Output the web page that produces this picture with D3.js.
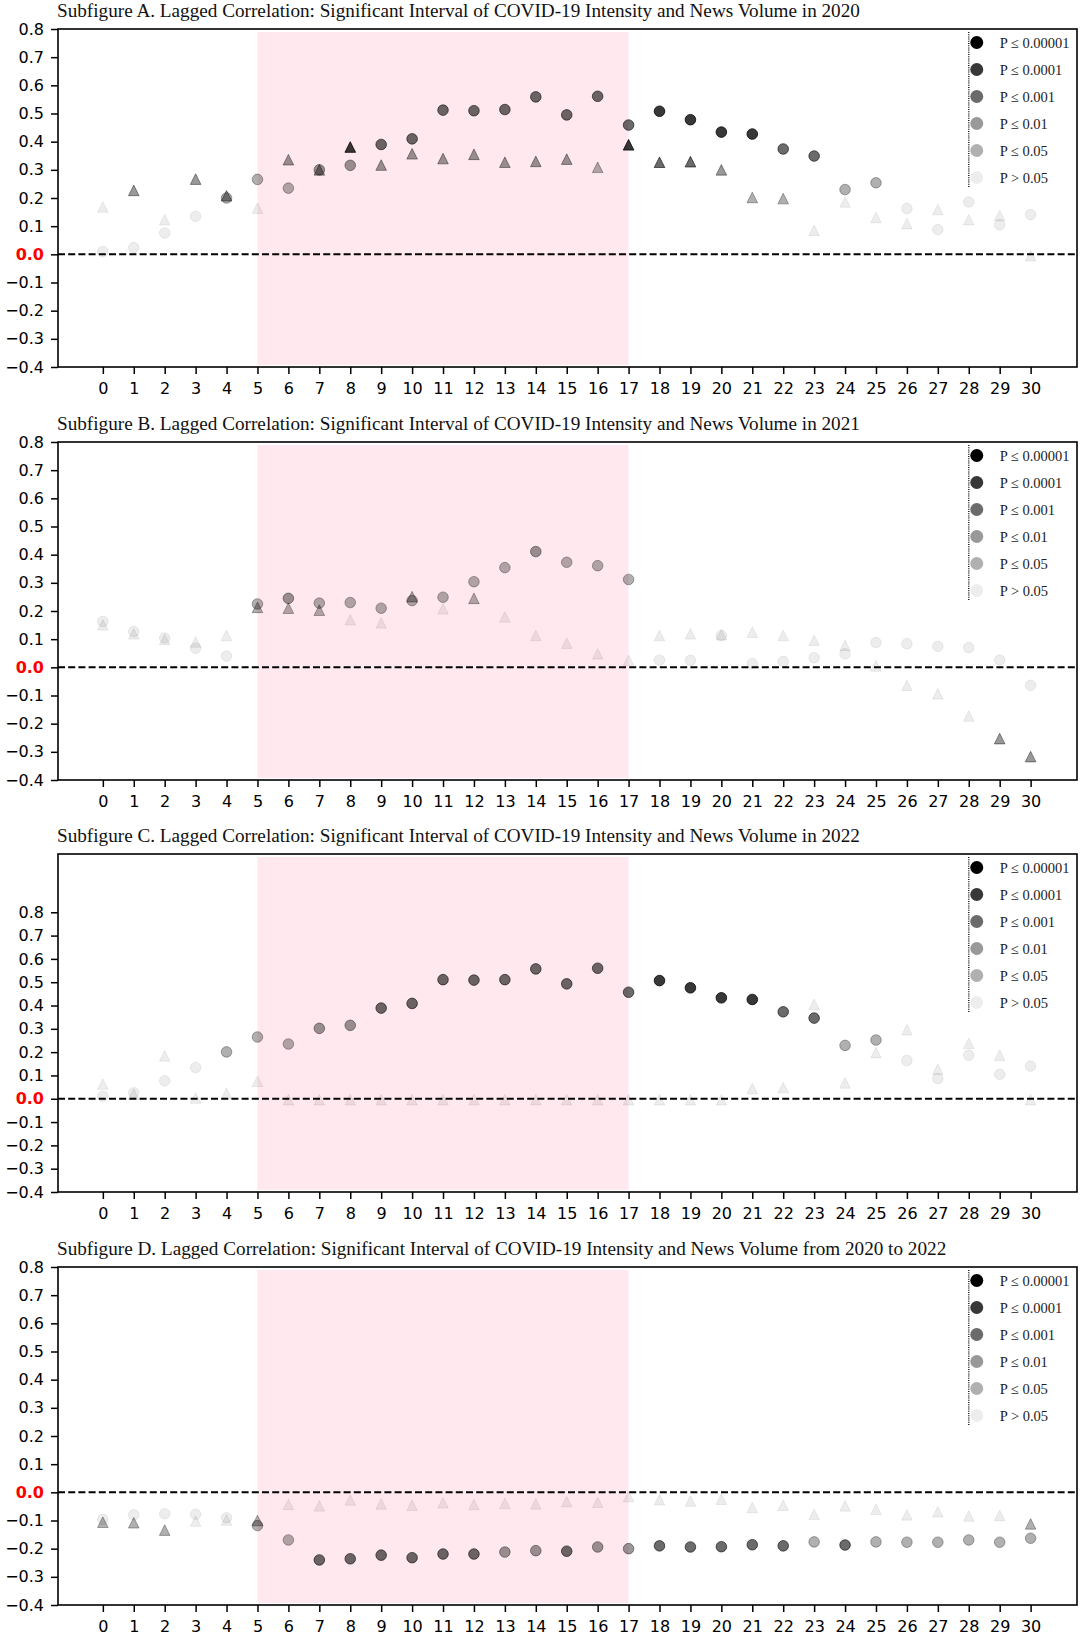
<!DOCTYPE html>
<html>
<head>
<meta charset="utf-8">
<script src="https://cdn.jsdelivr.net/npm/d3@7"></script>
<style>
  body { margin: 0; background: #fff; }
</style>
</head>
<body>
<svg id="chart"></svg>
<script>
// lags (days) on the x axis
const lags = [0, 1, 2, 3, 4, 5, 6, 7, 8, 9, 10, 11, 12, 13, 14, 15, 16, 17, 18, 19, 20, 21, 22, 23, 24, 25, 26, 27, 28, 29, 30]
const yTicks = [-0.4, -0.3, -0.2, -0.1, 0.0, 0.1, 0.2, 0.3, 0.4, 0.5, 0.6, 0.7, 0.8]
const pLabels = ["P \u2264 0.00001", "P \u2264 0.0001", "P \u2264 0.001", "P \u2264 0.01", "P \u2264 0.05", "P > 0.05"]
const pAlpha = [1, 0.78, 0.58, 0.4, 0.31, 0.07]
const interval = [5, 17]

const titles = [
    "Subfigure A. Lagged Correlation: Significant Interval of COVID-19 Intensity and News Volume in 2020",
    "Subfigure B. Lagged Correlation: Significant Interval of COVID-19 Intensity and News Volume in 2021",
    "Subfigure C. Lagged Correlation: Significant Interval of COVID-19 Intensity and News Volume in 2022",
    "Subfigure D. Lagged Correlation: Significant Interval of COVID-19 Intensity and News Volume from 2020 to 2022"
]
const yMax = [0.8, 0.8, 1.05, 0.8]

// circles / triangles: correlation values, and p level index (0 = P<=0.00001 ... 5 = P>0.05)
const aCircle = [0.010, 0.024, 0.076, 0.135, 0.200, 0.266, 0.235, 0.300, 0.316, 0.390, 0.410, 0.512, 0.510, 0.514, 0.559, 0.495, 0.561, 0.459, 0.508, 0.478, 0.434, 0.427, 0.374, 0.349, 0.230, 0.254, 0.163, 0.088, 0.186, 0.105, 0.141]
const aCircleP = [5, 5, 5, 5, 4, 4, 4, 3, 3, 2, 2, 2, 2, 2, 2, 2, 2, 2, 1, 1, 1, 1, 2, 2, 4, 4, 5, 5, 5, 5, 5]
const aTri = [0.168, 0.227, 0.123, 0.267, 0.208, 0.164, 0.336, 0.300, 0.381, 0.317, 0.357, 0.340, 0.355, 0.327, 0.330, 0.338, 0.309, 0.389, 0.327, 0.329, 0.300, 0.202, 0.198, 0.085, 0.186, 0.131, 0.109, 0.159, 0.123, 0.138, -0.005]
const aTriP = [5, 3, 5, 3, 3, 5, 3, 3, 1, 3, 3, 3, 3, 3, 3, 3, 4, 1, 2, 2, 3, 4, 4, 5, 5, 5, 5, 5, 5, 5, 5]

const bCircle = [0.163, 0.127, 0.104, 0.068, 0.040, 0.225, 0.245, 0.228, 0.230, 0.210, 0.237, 0.249, 0.304, 0.354, 0.411, 0.373, 0.361, 0.312, 0.026, 0.025, 0.113, 0.013, 0.021, 0.034, 0.048, 0.088, 0.084, 0.075, 0.070, 0.026, -0.064]
const bCircleP = [5, 5, 5, 5, 5, 4, 3, 4, 4, 4, 4, 4, 4, 4, 3, 4, 4, 4, 5, 5, 5, 5, 5, 5, 5, 5, 5, 5, 5, 5, 5]
const bTri = [0.151, 0.119, 0.099, 0.090, 0.113, 0.213, 0.210, 0.203, 0.169, 0.158, 0.251, 0.208, 0.245, 0.179, 0.113, 0.086, 0.048, 0.025, 0.113, 0.119, 0.116, 0.125, 0.113, 0.096, 0.078, 0.005, -0.064, -0.094, -0.173, -0.253, -0.317]
const bTriP = [5, 5, 5, 5, 5, 4, 4, 4, 5, 5, 4, 5, 4, 5, 5, 5, 5, 5, 5, 5, 5, 5, 5, 5, 5, 5, 5, 5, 5, 3, 3]

const cCircle = [0.011, 0.026, 0.077, 0.134, 0.201, 0.265, 0.235, 0.302, 0.315, 0.389, 0.409, 0.511, 0.509, 0.511, 0.557, 0.493, 0.560, 0.457, 0.507, 0.476, 0.433, 0.426, 0.373, 0.346, 0.229, 0.252, 0.164, 0.087, 0.187, 0.105, 0.140]
const cCircleP = [5, 5, 5, 5, 4, 4, 4, 3, 3, 2, 2, 2, 2, 2, 2, 2, 2, 2, 1, 1, 1, 1, 2, 2, 4, 4, 5, 5, 5, 5, 5]
const cTri = [0.063, 0.020, 0.184, 0.003, 0.023, 0.075, -0.004, -0.004, -0.004, -0.004, -0.004, -0.004, -0.004, -0.004, -0.004, -0.004, -0.004, -0.004, -0.004, -0.004, -0.004, 0.044, 0.048, 0.405, 0.068, 0.198, 0.296, 0.127, 0.238, 0.187, -0.004]
const cTriP = [5, 5, 5, 5, 5, 5, 5, 5, 5, 5, 5, 5, 5, 5, 5, 5, 5, 5, 5, 5, 5, 5, 5, 5, 5, 5, 5, 5, 5, 5, 5]

const dCircle = [-0.096, -0.080, -0.076, -0.078, -0.090, -0.118, -0.169, -0.240, -0.236, -0.223, -0.232, -0.219, -0.219, -0.212, -0.207, -0.209, -0.194, -0.200, -0.190, -0.194, -0.193, -0.186, -0.190, -0.176, -0.187, -0.176, -0.177, -0.177, -0.169, -0.177, -0.163]
const dCircleP = [5, 5, 5, 5, 5, 4, 4, 2, 2, 2, 2, 2, 2, 3, 3, 2, 3, 3, 2, 2, 2, 2, 2, 4, 2, 4, 4, 4, 4, 4, 4]
const dTri = [-0.106, -0.108, -0.134, -0.102, -0.098, -0.100, -0.043, -0.048, -0.027, -0.041, -0.046, -0.037, -0.043, -0.039, -0.041, -0.033, -0.035, -0.015, -0.026, -0.031, -0.024, -0.054, -0.046, -0.078, -0.048, -0.060, -0.080, -0.069, -0.084, -0.082, -0.112]
const dTriP = [4, 4, 4, 5, 5, 4, 5, 5, 5, 5, 5, 5, 5, 5, 5, 5, 5, 5, 5, 5, 5, 5, 5, 5, 5, 5, 5, 5, 5, 5, 4]

const panels = [
    { circle: aCircle, circleP: aCircleP, tri: aTri, triP: aTriP },
    { circle: bCircle, circleP: bCircleP, tri: bTri, triP: bTriP },
    { circle: cCircle, circleP: cCircleP, tri: cTri, triP: cTriP },
    { circle: dCircle, circleP: dCircleP, tri: dTri, triP: dTriP }
]

// layout
let svgWidth = 1082
let svgHeight = 1637
let plotLeft = 58
let plotRight = 1077
let plotHeight = 338
let panelTops = [29, 442, 854, 1267]
let markerR = 5.3
let serif = "'Liberation Serif', 'Times New Roman', serif"
let sans = "'DejaVu Sans', sans-serif"

const svg = d3.select("#chart")
    .attr("width", svgWidth)
    .attr("height", svgHeight)

const x = d3.scaleLinear()
    .domain([-1.45, 31.5])
    .range([plotLeft, plotRight])

const fmt = d3.format(".1f")

function triPath(r) {
    return `M0,${-r}L${r},${r}L${-r},${r}Z`
}

function drawPanel(i) {
    let top = panelTops[i]
    let bottom = top + plotHeight
    let p = panels[i]

    const y = d3.scaleLinear()
        .domain([-0.4, yMax[i]])
        .range([bottom, top])

    const g = svg.append("g").attr("class", "panel")

    // title
    g.append("text")
        .attr("x", plotLeft - 1)
        .attr("y", top - 12)
        .style("font-family", serif)
        .style("font-size", "19.2px")
        .attr("fill", "#111")
        .text(titles[i])

    // significant interval band
    g.append("rect")
        .attr("x", x(interval[0]))
        .attr("y", top + 3)
        .attr("width", x(interval[1]) - x(interval[0]))
        .attr("height", plotHeight - 5)
        .attr("fill", "#ffe9ee")

    // zero line
    g.append("line")
        .attr("x1", plotLeft)
        .attr("x2", plotRight)
        .attr("y1", y(0))
        .attr("y2", y(0))
        .attr("stroke", "black")
        .attr("stroke-width", 2)
        .attr("stroke-dasharray", "7,3.2")

    // triangles first, circles on top
    g.append("g")
        .selectAll("path")
        .data(lags)
        .enter()
        .append("path")
        .attr("d", triPath(markerR))
        .attr("transform", d => `translate(${x(d)},${y(p.tri[d])})`)
        .attr("fill", "black")
        .attr("fill-opacity", d => pAlpha[p.triP[d]])
        .attr("stroke", "black")
        .attr("stroke-opacity", d => pAlpha[p.triP[d]])
        .attr("stroke-width", 1)

    g.append("g")
        .selectAll("circle")
        .data(lags)
        .enter()
        .append("circle")
        .attr("cx", d => x(d))
        .attr("cy", d => y(p.circle[d]))
        .attr("r", markerR)
        .attr("fill", "black")
        .attr("fill-opacity", d => pAlpha[p.circleP[d]])
        .attr("stroke", "black")
        .attr("stroke-opacity", d => pAlpha[p.circleP[d]])
        .attr("stroke-width", 1)

    // axes
    const yAxis = g.append("g")
        .attr("transform", `translate(${plotLeft},0)`)
        .call(d3.axisLeft(y).tickValues(yTicks).tickFormat(fmt).tickSizeOuter(0).tickSize(7).tickPadding(7))
    yAxis.select(".domain").remove()
    yAxis.selectAll(".tick line").attr("stroke-width", 1.5)
    yAxis.selectAll(".tick text")
        .style("font-family", sans)
        .style("font-size", "16px")
        .attr("fill", d => d == 0 ? "red" : "black")
        .style("font-weight", d => d == 0 ? "bold" : "normal")

    const xAxis = g.append("g")
        .attr("transform", `translate(0,${bottom})`)
        .call(d3.axisBottom(x).tickValues(lags).tickFormat(d3.format("d")).tickSizeOuter(0).tickSize(7).tickPadding(9))
    xAxis.select(".domain").remove()
    xAxis.selectAll(".tick line").attr("stroke-width", 1.5)
    xAxis.selectAll(".tick text")
        .style("font-family", sans)
        .style("font-size", "16px")
        .attr("fill", "black")

    // frame
    g.append("rect")
        .attr("x", plotLeft)
        .attr("y", top)
        .attr("width", plotRight - plotLeft)
        .attr("height", plotHeight)
        .attr("fill", "none")
        .attr("stroke", "black")
        .attr("stroke-width", 1.6)

    // legend: dotted left edge, grey level circles, labels
    let lx = x(28)
    g.append("line")
        .attr("x1", lx)
        .attr("x2", lx)
        .attr("y1", top + 3)
        .attr("y2", top + 159)
        .attr("stroke", "#222")
        .attr("stroke-width", 1.5)
        .attr("stroke-dasharray", "1,1.2")

    const legend = g.append("g")
        .selectAll(".legend")
        .data(pLabels)
        .enter()
        .append("g")
        .attr("class", "legend")
        .attr("transform", (d, k) => `translate(${lx + 8},${top + 13.5 + k * 27})`)

    legend.append("circle")
        .attr("r", 6.5)
        .attr("fill", "black")
        .attr("fill-opacity", (d, k) => pAlpha[k])

    legend.append("text")
        .attr("x", 23)
        .attr("y", 5)
        .style("font-family", serif)
        .style("font-size", "14.5px")
        .attr("fill", "#222")
        .text(d => d)
}

panels.forEach((p, i) => drawPanel(i))
</script>
</body>
</html>
